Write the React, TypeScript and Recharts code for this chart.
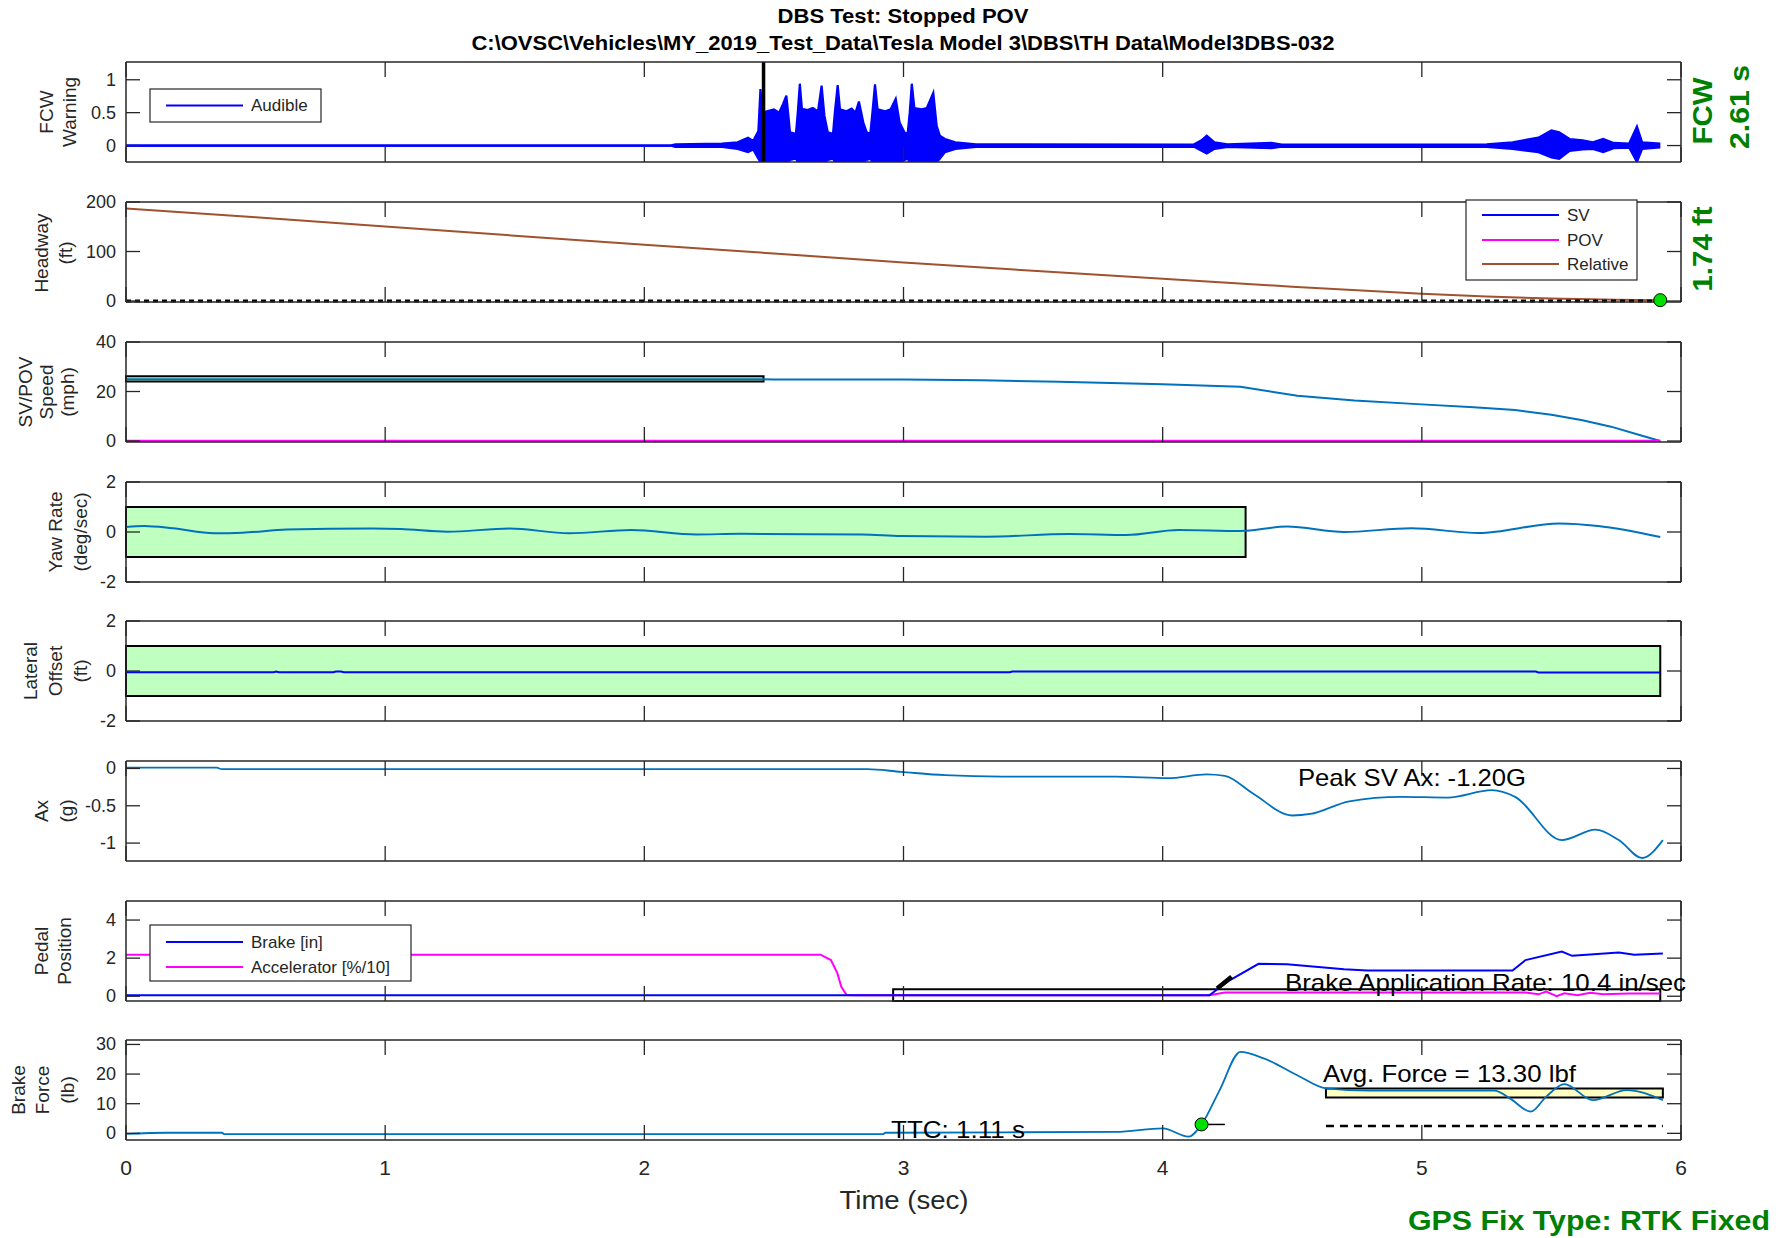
import {
  ComposedChart,
  XAxis,
  YAxis,
  Line,
  Area,
  ReferenceArea,
  ReferenceLine,
  ReferenceDot,
} from "recharts";
import type { ReactNode } from "react";

const xTicks = [0, 1, 2, 3, 4, 5, 6];

// FCW audible signal, drawn as its envelope (low / high)
const fcwTime = [
  0, 2.1, 2.12, 2.3, 2.36, 2.4, 2.42, 2.44, 2.448, 2.456, 2.48, 2.5, 2.52, 2.535, 2.548, 2.556, 2.562,
  2.585, 2.592, 2.6, 2.608, 2.63, 2.65, 2.67, 2.684, 2.695, 2.708, 2.728, 2.735, 2.746, 2.755, 2.78,
  2.8, 2.815, 2.828, 2.845, 2.858, 2.872, 2.88, 2.89, 2.9, 2.93, 2.95, 2.97, 2.985, 3.004, 3.016,
  3.024, 3.032, 3.042, 3.07, 3.09, 3.115, 3.128, 3.14, 3.16, 3.2, 3.28, 4.12, 4.15, 4.17, 4.2, 4.25,
  4.42, 4.46, 5.25, 5.35, 5.45, 5.5, 5.53, 5.57, 5.62, 5.66, 5.7, 5.74, 5.8, 5.83, 5.85, 5.92,
];
const fcwHigh = [
  0, 0, 0.02, 0.03, 0.05, 0.12, 0.07, 0.22, 0.86, 0.5, 0.53, 0.55, 0.5, 0.63, 0.76, 0.45, 0.2,
  0.18, 0.5, 0.94, 0.56, 0.54, 0.57, 0.52, 0.91, 0.45, 0.2, 0.18, 0.5, 0.92, 0.55, 0.52,
  0.56, 0.5, 0.67, 0.35, 0.2, 0.18, 0.5, 0.93, 0.55, 0.52, 0.55, 0.71, 0.35, 0.2, 0.18,
  0.5, 0.94, 0.57, 0.55, 0.57, 0.8, 0.3, 0.15, 0.1, 0.05, 0.02, 0.015, 0.08, 0.15, 0.05, 0.02,
  0.04, 0.015, 0.02, 0.05, 0.12, 0.23, 0.2, 0.1, 0.08, 0.05, 0.1, 0.04, 0.03, 0.29, 0.05, 0.03,
];
const fcwLow = [
  0, 0, -0.02, -0.02, -0.05, -0.1, -0.06, -0.2, -0.25, -0.25, -0.25, -0.25, -0.25, -0.25, -0.25, -0.25, -0.22,
  -0.2, -0.25, -0.25, -0.25, -0.25, -0.25, -0.25, -0.25, -0.25, -0.22, -0.2, -0.25, -0.25, -0.25, -0.25,
  -0.25, -0.25, -0.25, -0.25, -0.22, -0.2, -0.25, -0.25, -0.25, -0.25, -0.25, -0.25, -0.25, -0.22, -0.2,
  -0.25, -0.25, -0.25, -0.25, -0.25, -0.25, -0.25, -0.2, -0.1, -0.05, -0.02, -0.015, -0.08, -0.12, -0.05, -0.02,
  -0.04, -0.015, -0.02, -0.05, -0.1, -0.18, -0.2, -0.08, -0.06, -0.05, -0.1, -0.04, -0.03, -0.25, -0.05, -0.03,
];

const headTime = [0, 0.5, 1, 1.5, 2, 2.5, 3, 3.5, 4, 4.5, 5, 5.25, 5.5, 5.75, 5.92];
const headRelative = [187, 169, 150.6, 132, 113.7, 96, 78, 61, 44.8, 29, 14.7, 9, 5, 2.5, 1.74];

const speedTime = [0, 0.5, 1, 1.5, 2, 2.5, 3, 3.3, 3.6, 4, 4.3, 4.52, 4.74, 5, 5.2, 5.36, 5.5, 5.62, 5.73, 5.84, 5.92];
const speedSV = [25, 24.95, 25, 24.95, 24.95, 24.9, 24.9, 24.5, 23.9, 22.9, 21.9, 18.3, 16.4, 14.8, 13.6, 12.5, 10.6, 8.4, 5.8, 2.4, 0];
const povTime = [0, 5.92];
const povSpeed = [0, 0];

const yawTime = [
  0, 0.07, 0.18, 0.34, 0.45, 0.62, 0.95, 1.06, 1.24, 1.48, 1.71, 1.95, 2.2, 2.37, 2.84, 2.99, 3.32, 3.64,
  3.86, 4.06, 4.3, 4.48, 4.7, 4.96, 5.22, 5.53, 5.68, 5.92,
];
const yawRate = [
  0.2, 0.24, 0.15, -0.05, -0.03, 0.1, 0.14, 0.12, 0.01, 0.14, -0.05, 0.08, -0.1, -0.07, -0.1, -0.16, -0.19, -0.08,
  -0.12, 0.08, 0.04, 0.22, 0, 0.15, -0.04, 0.34, 0.24, -0.2,
];

const latTime = [0, 0.57, 0.58, 0.59, 0.8, 0.81, 0.83, 0.84, 3.41, 3.42, 5.44, 5.45, 5.92];
const latOffset = [-0.05, -0.05, -0.02, -0.05, -0.05, -0.02, -0.02, -0.05, -0.05, -0.02, -0.02, -0.06, -0.06];

const axTime = [
  0, 0.35, 0.37, 2.86, 2.99, 3.16, 3.38, 3.82, 4.02, 4.17, 4.24, 4.35, 4.5, 4.57, 4.72, 4.92, 5.1, 5.27, 5.36,
  5.54, 5.67, 5.76, 5.85, 5.93,
];
const axValue = [
  0.01, 0.01, -0.01, -0.01, -0.045, -0.09, -0.11, -0.11, -0.13, -0.08, -0.1, -0.34, -0.63, -0.61, -0.44, -0.38,
  -0.39, -0.29, -0.38, -0.96, -0.82, -0.96, -1.2, -0.96,
];

const accTime = [0, 2.68, 2.72, 2.745, 2.76, 2.78, 2.82, 4.18, 4.24, 5.4, 5.45, 5.48, 5.52, 5.55, 5.6, 5.65, 5.7, 5.8, 5.92];
const accPedal = [2.18, 2.18, 1.9, 1.2, 0.5, 0.07, 0.05, 0.05, 0.2, 0.2, 0.1, 0.25, 0.0, 0.15, 0.05, 0.18, 0.1, 0.14, 0.14];
const brkTime = [0, 4.18, 4.26, 4.37, 4.48, 4.7, 4.79, 5.35, 5.4, 5.54, 5.58, 5.76, 5.82, 5.93];
const brkPedal = [0.05, 0.05, 0.85, 1.7, 1.68, 1.42, 1.35, 1.35, 1.9, 2.35, 2.12, 2.3, 2.18, 2.25];

const forceTime = [
  0, 0.16, 0.37, 0.38, 2.92, 2.93, 3.82, 4.0, 4.1, 4.15, 4.22, 4.3, 4.39, 4.53, 4.63, 4.8, 5.28, 5.34, 5.42,
  5.48, 5.55, 5.66, 5.79, 5.93,
];
const forceValue = [
  -0.2, 0.2, 0.2, -0.3, -0.3, 0.2, 0.5, 1.7, -1.1, 3, 14.6, 27.5, 25.3, 19.1, 15.2, 14.4, 14.4, 11.8, 7.3,
  12.4, 16.6, 11.2, 14.6, 11.2,
];

// event markers
const fcwAlertTime = 2.46;
const speedBox = { t1: 0, t2: 2.46, lo: 24, hi: 26.2 };
const yawBox = { t1: 0, t2: 4.32, lo: -1, hi: 1 };
const latBox = { t1: 0, t2: 5.92, lo: -1, hi: 1 };
const rateBox = { t1: 2.96, t2: 5.92, lo: -0.25, hi: 0.37 };
const rateFit = [{ x: 4.21, y: 0.4 }, { x: 4.266, y: 1.02 }];
const avgBox = { t1: 4.63, t2: 5.93, lo: 12.1, hi: 15.1 };
const forceThreshold = 2.5;
const ttcPoint = { t: 4.15, v: 3 };
const headEnd = { t: 5.92, v: 1.74 };

const rows = (t: number[], v: number[]) => t.map((x, i) => ({ t: x, v: v[i] }));
const fcwRows = fcwTime.map((t, i) => ({ t, band: [fcwLow[i], fcwHigh[i]] }));

const AX = "#262626";
const FONT = "'Liberation Sans', Arial, sans-serif";
const C_LINE = "#0072BD";
const C_BLUE = "#0000FF";
const C_MAG = "#FF00FF";
const C_GREEN = "#00E000";

// MATLAB-style ticks: short marks pointing into the plot box
type Side = "left" | "right" | "top" | "bottom";
const makeTick = (side: Side, withLabel: boolean) => (p: any) => {
  const { x, y } = p;
  const v = p.payload?.value;
  let line;
  if (side === "left") line = <line x1={x} x2={x + 14} y1={y} y2={y} />;
  else if (side === "right") line = <line x1={x} x2={x - 14} y1={y} y2={y} />;
  else if (side === "top") line = <line x1={x} x2={x} y1={y} y2={y + 15} />;
  else line = <line x1={x} x2={x} y1={y} y2={y - 15} />;
  return (
    <g>
      <g stroke={AX} strokeWidth={1.3}>{line}</g>
      {withLabel && side === "left" && (
        <text x={x - 10} y={y} textAnchor="end" dominantBaseline="central" fontSize={18} fill={AX} fontFamily={FONT}>
          {String(v)}
        </text>
      )}
      {withLabel && side === "bottom" && (
        <text x={x} y={y + 27} textAnchor="middle" dominantBaseline="central" fontSize={21} fill={AX} fontFamily={FONT}>
          {String(v)}
        </text>
      )}
    </g>
  );
};

function Panel({
  top,
  domain,
  ticks,
  last = false,
  children,
}: {
  top: number;
  domain: [number, number];
  ticks: number[];
  last?: boolean;
  children: ReactNode;
}) {
  const mt = 10;
  const mb = 10;
  const hb = last ? 60 : 1;
  const height = 100 + mt + mb + 1 + hb;
  const axisLine = { stroke: AX, strokeWidth: 1.5 };
  return (
    <div style={{ position: "absolute", left: 0, top: top - mt - 1, width: 1792, height }}>
      <ComposedChart width={1792} height={height} margin={{ top: mt, right: 110, bottom: mb, left: 66 }}>
        <XAxis
          dataKey="t"
          type="number"
          domain={[0, 6]}
          ticks={xTicks}
          interval={0}
          allowDataOverflow
          height={hb}
          tickSize={0}
          tickMargin={0}
          tickLine={false}
          tick={makeTick("bottom", last)}
          axisLine={axisLine}
        />
        <XAxis
          xAxisId="top"
          orientation="top"
          dataKey="t"
          type="number"
          domain={[0, 6]}
          ticks={xTicks}
          interval={0}
          allowDataOverflow
          height={1}
          tickSize={0}
          tickMargin={0}
          tickLine={false}
          tick={makeTick("top", false)}
          axisLine={axisLine}
        />
        <YAxis
          type="number"
          domain={domain}
          ticks={ticks}
          interval={0}
          allowDataOverflow
          width={60}
          tickSize={0}
          tickMargin={0}
          tickLine={false}
          tick={makeTick("left", true)}
          axisLine={axisLine}
        />
        <YAxis
          yAxisId="right"
          orientation="right"
          type="number"
          domain={domain}
          ticks={ticks}
          interval={0}
          allowDataOverflow
          width={1}
          tickSize={0}
          tickMargin={0}
          tickLine={false}
          tick={makeTick("right", false)}
          axisLine={axisLine}
        />
        <Line
          xAxisId="top"
          yAxisId="right"
          data={[{ t: 0, v: domain[0] }, { t: 6, v: domain[0] }]}
          dataKey="v"
          stroke="none"
          dot={false}
          isAnimationActive={false}
        />
        {children}
      </ComposedChart>
    </div>
  );
}

function VLabel({ x, y, lines, gap = 23 }: { x: number; y: number; lines: string[]; gap?: number }) {
  return (
    <>
      {lines.map((s, i) => (
        <text
          key={i}
          transform={`translate(${x + i * gap},${y}) rotate(-90)`}
          textAnchor="middle"
          dominantBaseline="central"
          fontSize={19}
          fill={AX}
        >
          {s}
        </text>
      ))}
    </>
  );
}

function LegendBox({
  x,
  y,
  w,
  h,
  items,
}: {
  x: number;
  y: number;
  w: number;
  h: number;
  items: { label: string; color: string; y: number }[];
}) {
  return (
    <g>
      <rect x={x} y={y} width={w} height={h} fill="#fff" stroke={AX} strokeWidth={1.2} />
      {items.map((it) => (
        <g key={it.label}>
          <line x1={x + 16} x2={x + 93} y1={it.y} y2={it.y} stroke={it.color} strokeWidth={2} />
          <text x={x + 101} y={it.y} dominantBaseline="central" fontSize={17} fill={AX}>
            {it.label}
          </text>
        </g>
      ))}
    </g>
  );
}

export default function App() {
  return (
    <div
      style={{
        position: "absolute",
        left: 0,
        top: 0,
        width: 1792,
        height: 1238,
        background: "#fff",
        fontFamily: FONT,
        overflow: "hidden",
      }}
    >
      {/* FCW warning */}
      <Panel top={62} domain={[-0.25, 1.27]} ticks={[0, 0.5, 1]}>
        <Area
          data={fcwRows}
          dataKey="band"
          type="linear"
          stroke={C_BLUE}
          strokeWidth={2.2}
          fill={C_BLUE}
          fillOpacity={1}
          isAnimationActive={false}
        />
        <ReferenceLine x={fcwAlertTime} stroke="#000" strokeWidth={3.5} />
      </Panel>

      {/* Headway */}
      <Panel top={202} domain={[-2, 200]} ticks={[0, 100, 200]}>
        <Line data={rows(headTime, headRelative)} dataKey="v" stroke="#A0522D" strokeWidth={2} dot={false} isAnimationActive={false} />
        <ReferenceLine
          segment={[{ x: 0, y: 0 }, { x: headEnd.t, y: 0 }]}
          stroke="#000"
          strokeWidth={3}
          strokeDasharray="5 4"
        />
        <ReferenceDot x={headEnd.t} y={headEnd.v} r={6.5} fill={C_GREEN} stroke="#000" strokeWidth={1} ifOverflow="visible" />
      </Panel>

      {/* SV / POV speed */}
      <Panel top={342} domain={[-0.4, 40]} ticks={[0, 20, 40]}>
        <ReferenceArea x1={speedBox.t1} x2={speedBox.t2} y1={speedBox.lo} y2={speedBox.hi} fill="#BFFFBF" fillOpacity={1} stroke="#000" strokeWidth={2} />
        <Line data={rows(speedTime, speedSV)} dataKey="v" stroke={C_LINE} strokeWidth={2} dot={false} isAnimationActive={false} />
        <Line data={rows(povTime, povSpeed)} dataKey="v" stroke={C_MAG} strokeWidth={2.5} dot={false} isAnimationActive={false} />
      </Panel>

      {/* Yaw rate */}
      <Panel top={482} domain={[-2, 2]} ticks={[-2, 0, 2]}>
        <ReferenceArea x1={yawBox.t1} x2={yawBox.t2} y1={yawBox.lo} y2={yawBox.hi} fill="#BFFFBF" fillOpacity={1} stroke="#000" strokeWidth={2} />
        <Line data={rows(yawTime, yawRate)} dataKey="v" type="monotone" stroke={C_LINE} strokeWidth={2} dot={false} isAnimationActive={false} />
      </Panel>

      {/* Lateral offset */}
      <Panel top={621} domain={[-2, 2]} ticks={[-2, 0, 2]}>
        <ReferenceArea x1={latBox.t1} x2={latBox.t2} y1={latBox.lo} y2={latBox.hi} fill="#BFFFBF" fillOpacity={1} stroke="#000" strokeWidth={2} />
        <Line data={rows(latTime, latOffset)} dataKey="v" stroke={C_BLUE} strokeWidth={2} dot={false} isAnimationActive={false} />
      </Panel>

      {/* Ax */}
      <Panel top={761} domain={[-1.24, 0.1]} ticks={[-1, -0.5, 0]}>
        <Line data={rows(axTime, axValue)} dataKey="v" type="monotone" stroke={C_LINE} strokeWidth={1.8} dot={false} isAnimationActive={false} />
      </Panel>

      {/* Pedal position */}
      <Panel top={901} domain={[-0.25, 5]} ticks={[0, 2, 4]}>
        <Line data={rows(accTime, accPedal)} dataKey="v" stroke={C_MAG} strokeWidth={2} dot={false} isAnimationActive={false} />
        <Line data={rows(brkTime, brkPedal)} dataKey="v" stroke={C_BLUE} strokeWidth={2} dot={false} isAnimationActive={false} />
        <ReferenceArea x1={rateBox.t1} x2={rateBox.t2} y1={rateBox.lo} y2={rateBox.hi} fill="none" stroke="#000" strokeWidth={2} />
        <ReferenceLine segment={rateFit} stroke="#000" strokeWidth={4.5} />
      </Panel>

      {/* Brake force */}
      <Panel top={1040} domain={[-2.25, 31.5]} ticks={[0, 10, 20, 30]} last>
        <Line data={rows(forceTime, forceValue)} dataKey="v" type="monotone" stroke={C_LINE} strokeWidth={1.8} dot={false} isAnimationActive={false} />
        <ReferenceArea x1={avgBox.t1} x2={avgBox.t2} y1={avgBox.lo} y2={avgBox.hi} fill="#FFFF99" fillOpacity={0.6} stroke="#000" strokeWidth={2} />
        <ReferenceLine
          segment={[{ x: avgBox.t1, y: forceThreshold }, { x: avgBox.t2, y: forceThreshold }]}
          stroke="#000"
          strokeWidth={2.5}
          strokeDasharray="8 6"
        />
        <ReferenceLine segment={[{ x: ttcPoint.t, y: ttcPoint.v }, { x: 4.24, y: ttcPoint.v }]} stroke="#000" strokeWidth={1.5} />
        <ReferenceDot x={ttcPoint.t} y={ttcPoint.v} r={6.5} fill={C_GREEN} stroke="#000" strokeWidth={1} />
      </Panel>

      {/* texts and legends */}
      <svg
        width={1792}
        height={1238}
        style={{ position: "absolute", left: 0, top: 0, pointerEvents: "none", fontFamily: FONT }}
      >
        <text x={903} y={23} textAnchor="middle" fontSize={20} fontWeight="bold" fill="#000" textLength={251} lengthAdjust="spacingAndGlyphs">
          DBS Test: Stopped POV
        </text>
        <text x={903} y={50} textAnchor="middle" fontSize={20} fontWeight="bold" fill="#000" textLength={863} lengthAdjust="spacingAndGlyphs">
          C:\OVSC\Vehicles\MY_2019_Test_Data\Tesla Model 3\DBS\TH Data\Model3DBS-032
        </text>

        <VLabel x={46} y={112} lines={["FCW", "Warning"]} />
        <VLabel x={41} y={253} lines={["Headway", "(ft)"]} gap={24} />
        <VLabel x={25} y={392} lines={["SV/POV", "Speed", "(mph)"]} gap={21} />
        <VLabel x={55} y={532} lines={["Yaw Rate", "(deg/sec)"]} gap={25} />
        <VLabel x={30} y={671} lines={["Lateral", "Offset", "(ft)"]} gap={25} />
        <VLabel x={41} y={811} lines={["Ax", "(g)"]} gap={25} />
        <VLabel x={41} y={951} lines={["Pedal", "Position"]} gap={23} />
        <VLabel x={18} y={1090} lines={["Brake", "Force", "(lb)"]} gap={24.5} />

        <g fill="#008000" fontWeight="bold" fontSize={27}>
          <text transform="translate(1703,111) rotate(-90)" textAnchor="middle" dominantBaseline="central" textLength={67} lengthAdjust="spacingAndGlyphs">
            FCW
          </text>
          <text transform="translate(1740,107) rotate(-90)" textAnchor="middle" dominantBaseline="central" textLength={84} lengthAdjust="spacingAndGlyphs">
            2.61 s
          </text>
          <text transform="translate(1703,249) rotate(-90)" textAnchor="middle" dominantBaseline="central" textLength={85} lengthAdjust="spacingAndGlyphs">
            1.74 ft
          </text>
        </g>

        <LegendBox x={150} y={89} w={171} h={33} items={[{ label: "Audible", color: C_BLUE, y: 105.5 }]} />
        <LegendBox
          x={1466}
          y={200}
          w={171}
          h={80}
          items={[
            { label: "SV", color: C_BLUE, y: 215 },
            { label: "POV", color: C_MAG, y: 240 },
            { label: "Relative", color: "#A0522D", y: 264 },
          ]}
        />
        <LegendBox
          x={150}
          y={925}
          w={261}
          h={56}
          items={[
            { label: "Brake [in]", color: C_BLUE, y: 942 },
            { label: "Accelerator [%/10]", color: C_MAG, y: 967 },
          ]}
        />

        <g fontSize={24} fill="#000">
          <text x={1298} y={786} textLength={228} lengthAdjust="spacingAndGlyphs">Peak SV Ax: -1.20G</text>
          <text x={1285} y={991} textLength={401} lengthAdjust="spacingAndGlyphs">Brake Application Rate: 10.4 in/sec</text>
          <text x={1323} y={1082} textLength={253} lengthAdjust="spacingAndGlyphs">Avg. Force = 13.30 lbf</text>
          <text x={891} y={1138} textLength={134} lengthAdjust="spacingAndGlyphs">TTC: 1.11 s</text>
        </g>

        <text x={904} y={1209} textAnchor="middle" fontSize={25} fill={AX} textLength={129} lengthAdjust="spacingAndGlyphs">
          Time (sec)
        </text>
        <text x={1408} y={1230} fontSize={28} fontWeight="bold" fill="#008000" textLength={362} lengthAdjust="spacingAndGlyphs">
          GPS Fix Type: RTK Fixed
        </text>
      </svg>
    </div>
  );
}
